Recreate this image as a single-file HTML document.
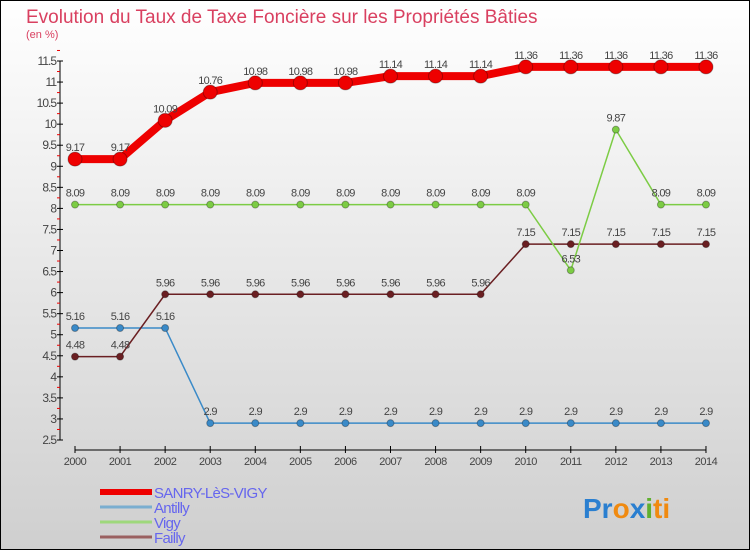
<!DOCTYPE html>
<html><head><meta charset="utf-8"><style>
body{margin:0}
#c{width:750px;height:550px;position:relative;overflow:hidden;font-family:"Liberation Sans",sans-serif}
</style></head><body>
<div id="c">
<svg id="s" width="750" height="550">
<defs><linearGradient id="bg" x1="0" y1="0" x2="0" y2="1"><stop offset="0" stop-color="#ffffff"/><stop offset="1" stop-color="#cfcfcf"/></linearGradient></defs>
<rect x="0.5" y="0.5" width="749" height="549" fill="url(#bg)" stroke="#000"/>
<text x="26" y="23" font-size="19" fill="#d94060">Evolution du Taux de Taxe Foncière sur les Propriétés Bâties</text>
<text x="26" y="38" font-size="11" fill="#d94060">(en %)</text>
<g id="axes"></g><g id="series"></g><g id="legend"></g>
<text x="583" y="518" font-size="28" font-weight="bold"><tspan fill="#2a7fd0">Pr</tspan><tspan fill="#f08a10">o</tspan><tspan fill="#2a7fd0">x</tspan><tspan fill="#60b030">i</tspan><tspan fill="#f08a10">ti</tspan></text>
</svg></div>
<script>
const years=[2000,2001,2002,2003,2004,2005,2006,2007,2008,2009,2010,2011,2012,2013,2014];
const sanry=[9.17,9.17,10.09,10.76,10.98,10.98,10.98,11.14,11.14,11.14,11.36,11.36,11.36,11.36,11.36];
const antilly=[5.16,5.16,5.16,2.9,2.9,2.9,2.9,2.9,2.9,2.9,2.9,2.9,2.9,2.9,2.9];
const vigy=[8.09,8.09,8.09,8.09,8.09,8.09,8.09,8.09,8.09,8.09,8.09,6.53,9.87,8.09,8.09];
const failly=[4.48,4.48,5.96,5.96,5.96,5.96,5.96,5.96,5.96,5.96,7.15,7.15,7.15,7.15,7.15];
const yTicks=[2.5,3,3.5,4,4.5,5,5.5,6,6.5,7,7.5,8,8.5,9,9.5,10,10.5,11,11.5];
const NS="http://www.w3.org/2000/svg";
const X=i=>75+i*45.07, Y=v=>440-(v-2.5)*(379/9);
function mk(t,a,p){const e=document.createElementNS(NS,t);for(const k in a)e.setAttribute(k,a[k]);p.appendChild(e);return e;}
const ax=document.getElementById('axes');
let yl=mk('line',{x1:60,y1:61,x2:60,y2:440,stroke:'#000'},ax);


yTicks.forEach(v=>{mk('line',{x1:57,x2:63,y1:Y(v),y2:Y(v),stroke:'#000'},ax);
mk('line',{x1:57,x2:60,y1:Y(v+0.25),y2:Y(v+0.25),stroke:'#e00'},ax);
const t=mk('text',{x:56,y:Y(v)+4,'font-size':12,'text-anchor':'end',fill:'#444','letter-spacing':'-1'},ax);t.textContent=v;

});
let xl=mk('line',{x1:75,y1:450,x2:706,y2:450,stroke:'#000'},ax);


years.forEach((y,i)=>{mk('line',{x1:X(i),x2:X(i),y1:446,y2:453,stroke:'#000'},ax);
const t=mk('text',{x:X(i),y:465,'font-size':11,'text-anchor':'middle',fill:'#444','letter-spacing':'-0.5'},ax);t.textContent=y;

});
const sg=document.getElementById('series');
function series(d,col,w,r,name){
 const g=mk('g',{},sg);
 
 
 mk('polyline',{points:d.map((v,i)=>X(i)+','+Y(v)).join(' '),fill:'none',stroke:col,'stroke-width':w},g);
 d.forEach((v,i)=>{const c=mk('circle',{cx:X(i),cy:Y(v),r:r,fill:col,stroke:'rgba(0,0,0,0.3)'},g);
 
 
 const t=mk('text',{x:X(i),y:Y(v)-8,'font-size':11,'text-anchor':'middle',fill:'#444','letter-spacing':'-0.7'},g);t.textContent=v;
 
 });
}
series(antilly,'#3a8ac8',1.5,3.5,'antilly');
series(failly,'#6a1f22',1.5,3.5,'failly');
series(vigy,'#7ccc44',1.5,3.5,'vigy');
series(sanry,'#ee0000',8,7,'sanry');
const lg=document.getElementById('legend');
[['SANRY-LèS-VIGY','#ee0000',6],['Antilly','#7aaed0',3],['Vigy','#9ed87c',3],['Failly','#9a6060',3]].forEach((e,i)=>{
 const y=492+i*15;
 const l=mk('line',{x1:100,x2:152,y1:y,y2:y,stroke:e[1],'stroke-width':e[2]},lg);
 
 
 const t=mk('text',{x:154,y:y+6,'font-size':15,fill:'#6666ee','letter-spacing':'-0.7'},lg);t.textContent=e[0];
 
 
});
</script>
</body></html>
